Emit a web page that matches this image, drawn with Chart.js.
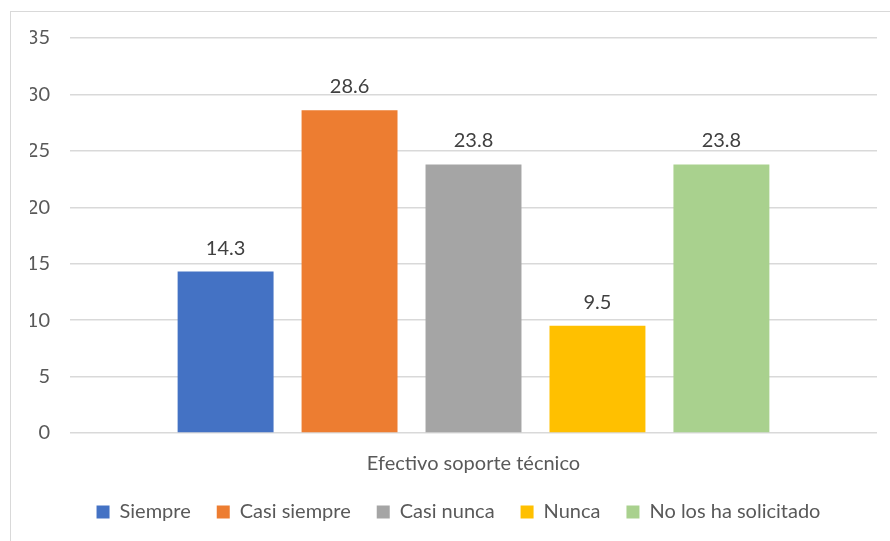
<!DOCTYPE html>
<html>
<head>
<meta charset="utf-8">
<script src="https://cdn.jsdelivr.net/npm/chart.js@4.4.0/dist/chart.umd.min.js"></script>
<style>
  html, body { margin: 0; padding: 0; background: #fff; }
  #wrap { position: relative; width: 890px; height: 541px; }
</style>
</head>
<body>
<div id="wrap"><canvas id="myChart" width="890" height="541"></canvas></div>
<script>
const categories = ["Efectivo soporte técnico"];
const seriesNames = ["Siempre", "Casi siempre", "Casi nunca", "Nunca", "No los ha solicitado"];
const seriesValues = [14.3, 28.6, 23.8, 9.5, 23.8];
const seriesColors = ["#4472C4", "#ED7D31", "#A5A5A5", "#FFC000", "#A9D18E"];
const yTicks = [0, 5, 10, 15, 20, 25, 30, 35];

const FONT = "Lato, 'Liberation Sans', sans-serif";

// frame around the chart, like the office chart border
// (also nudges the legend a few px right so it centres on the frame)
const framePlugin = {
  id: "frame",
  beforeDraw(chart) {
    if (chart.legend && !chart.legend._nudged) {
      chart.legend.left += 5;
      chart.legend.right += 5;
      chart.legend._nudged = true;
    }
    const ctx = chart.ctx;
    ctx.save();
    ctx.strokeStyle = "#d9d9d9";
    ctx.lineWidth = 1;
    ctx.strokeRect(10.5, 11.5, 1000, 1000);
    ctx.restore();
  }
};

// value labels above each bar
const valueLabels = {
  id: "valueLabels",
  afterDatasetsDraw(chart) {
    const ctx = chart.ctx;
    ctx.save();
    ctx.font = "20px " + FONT;
    ctx.fillStyle = "#404040";
    ctx.textAlign = "center";
    ctx.textBaseline = "alphabetic";
    chart.data.datasets.forEach((ds, i) => {
      const meta = chart.getDatasetMeta(i);
      meta.data.forEach((bar, j) => {
        ctx.fillText(ds.data[j].toFixed(1), bar.x, bar.y - 17);
      });
    });
    ctx.restore();
  }
};

const ctx = document.getElementById("myChart").getContext("2d");
new Chart(ctx, {
  type: "bar",
  data: {
    labels: categories,
    datasets: seriesNames.map((name, i) => ({
      label: name,
      data: [seriesValues[i]],
      backgroundColor: seriesColors[i],
      borderWidth: 0,
      categoryPercentage: 0.768,
      barPercentage: 0.774
    }))
  },
  options: {
    responsive: false,
    animation: false,
    layout: { padding: { top: 38, right: 13, bottom: 9, left: 30 } },
    plugins: {
      tooltip: { enabled: false },
      legend: {
        position: "bottom",
        labels: {
          boxWidth: 13,
          boxHeight: 13,
          padding: 26,
          color: "#595959",
          font: { family: FONT, size: 20 }
        }
      }
    },
    scales: {
      x: {
        grid: { display: false },
        border: { display: false },
        ticks: { color: "#595959", padding: 11, font: { family: FONT, size: 20 } },
        afterFit(scale) { scale.height = 43; }
      },
      y: {
        min: 0,
        max: 35,
        afterBuildTicks(scale) { scale.ticks = yTicks.map(v => ({ value: v })); },
        grid: { color: "#d9d9d9", lineWidth: 1.5, drawTicks: false },
        border: { display: false },
        ticks: { color: "#595959", padding: 20, font: { family: FONT, size: 20 } },
        afterFit(scale) { scale.width = 40; }
      }
    }
  },
  plugins: [framePlugin, valueLabels]
});
</script>
</body>
</html>
